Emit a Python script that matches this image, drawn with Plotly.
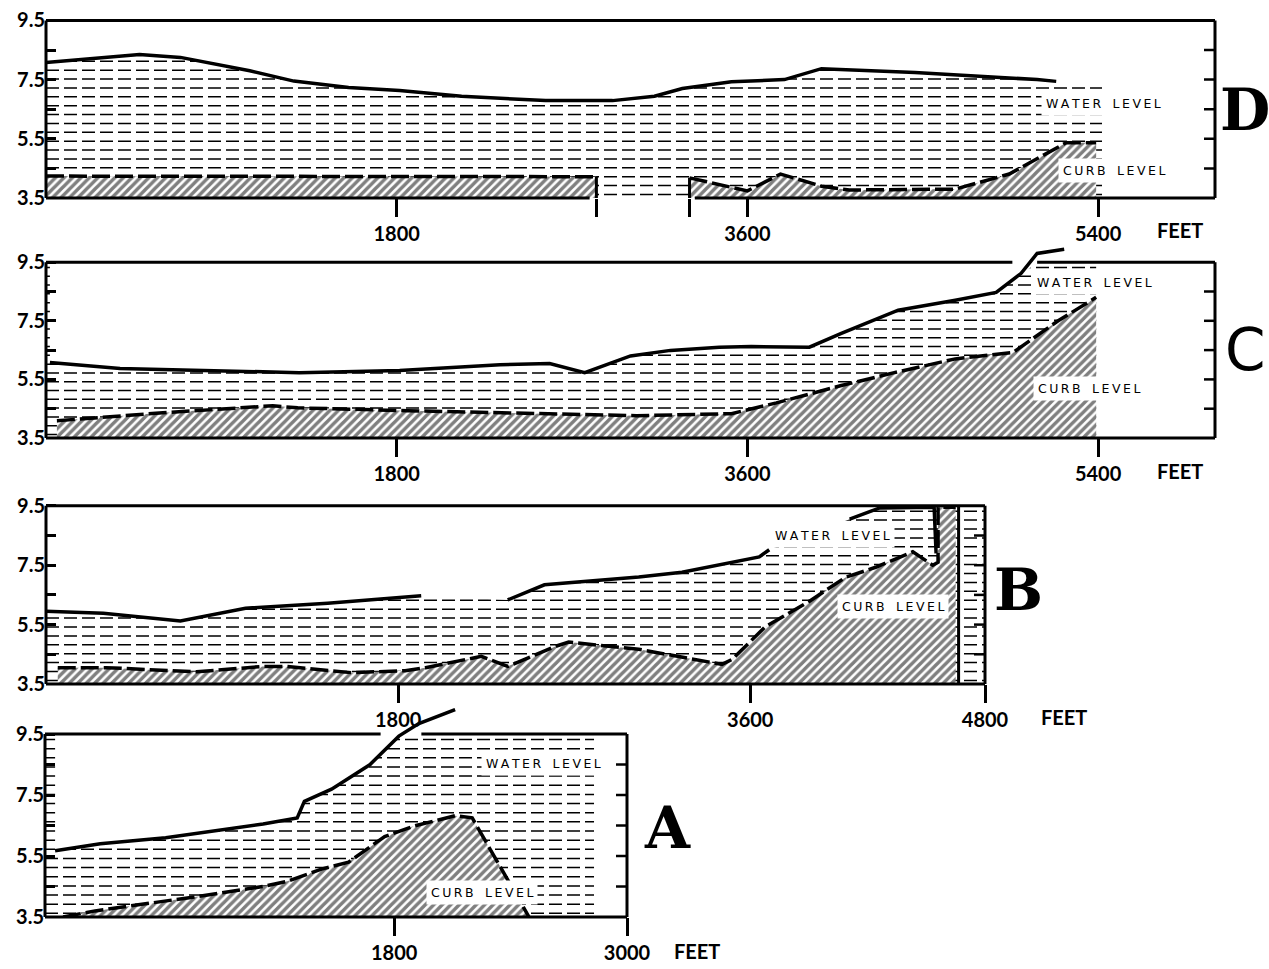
import plotly.graph_objects as go
import numpy as np

W, H = 1269, 969

# ---------------- data (feet, level) ----------------
# Panel D
d_water_x = [0, 480, 690, 1046, 1272, 1553, 1815, 2133, 2564, 2908, 3123, 3266, 3518, 3790, 3980, 4460, 5087, 5185, 5420]
d_water_y = [8.08, 8.35, 8.25, 7.8, 7.45, 7.23, 7.13, 6.94, 6.79, 6.79, 6.94, 7.2, 7.43, 7.5, 7.87, 7.74, 7.5, 7.44, 7.44]
d_water_gaps = [5185]
d_curb1_x = [0, 2825]
d_curb1_y = [4.24, 4.22]
d_curb2_x = [3303, 3600, 3770, 3980, 4123, 4667, 4944, 5236, 5390]
d_curb2_y = [4.18, 3.74, 4.31, 3.9, 3.77, 3.8, 4.31, 5.37, 5.37]

# Panel C
c_water_x = [20, 380, 1300, 1815, 2330, 2585, 2765, 3000, 3205, 3456, 3620, 3918, 4082, 4374, 4667, 4877, 5005, 5087, 5226]
c_water_y = [6.08, 5.87, 5.73, 5.8, 6.0, 6.04, 5.73, 6.3, 6.49, 6.6, 6.62, 6.6, 7.07, 7.86, 8.2, 8.47, 9.12, 9.8, 9.94]
c_curb_x = [56, 600, 1164, 1292, 1856, 2487, 3030, 3518, 3749, 4082, 4354, 4667, 4964, 5195, 5390]
c_curb_y = [4.09, 4.36, 4.6, 4.53, 4.43, 4.33, 4.26, 4.33, 4.7, 5.29, 5.73, 6.2, 6.42, 7.5, 8.3]

# Panel B
b_water_x = [0, 293, 687, 1020, 1440, 1918, 2360, 2548, 3030, 3251, 3646, 3697, 4108, 4262, 4540, 4550]
b_water_y = [5.95, 5.88, 5.62, 6.05, 6.22, 6.47, 6.33, 6.84, 7.1, 7.26, 7.78, 8.02, 9.05, 9.43, 9.45, 7.9]
b_water_gaps = [1918, 3697]
b_curb_x = [60, 308, 770, 1103, 1230, 1564, 1836, 1940, 2225, 2360, 2610, 2672, 3030, 3456, 3508,
            3677, 3903, 4087, 4241, 4431, 4533, 4560, 4560, 4650]
b_curb_y = [4.05, 4.05, 3.91, 4.09, 4.09, 3.88, 3.95, 4.05, 4.43, 4.09, 4.78, 4.91, 4.67, 4.16, 4.33,
            5.43, 6.29, 7.09, 7.43, 7.95, 7.5, 7.6, 9.45, 9.45]

# Panel A
a_water_x = [52, 285, 622, 1124, 1300, 1337, 1477, 1674, 1824, 1927, 2114]
a_water_y = [5.67, 5.9, 6.1, 6.55, 6.75, 7.29, 7.69, 8.49, 9.43, 9.84, 10.3]
a_curb_x = [93, 258, 772, 1124, 1249, 1425, 1565, 1751, 1901, 2114, 2202, 2378, 2495]
a_curb_y = [3.5, 3.7, 4.16, 4.5, 4.67, 5.07, 5.3, 6.14, 6.48, 6.82, 6.75, 4.8, 3.5]

y_tickvals = [3.5, 4.5, 5.5, 6.5, 7.5, 8.5, 9.5]
y_ticktext = ["3.5", "", "5.5", "", "7.5", "", "9.5"]

panels = [
    dict(letter="D", lfont="DejaVu Serif", xmax=6000, ytop=9.6, px=(46, 1215, 198, 29.6),
         water=(d_water_x, d_water_y, d_water_gaps),
         curbs=[(d_curb1_x, d_curb1_y), (d_curb2_x, d_curb2_y)],
         dash_end=5420,
         xticks=[1800, 2825, 3303, 3600, 5400], xtext=["1800", "", "", "3600", "5400"],
         top=[(0, 6000)], bottom=[(0, 2790), (3330, 6000)],
         verticals=[(2825, 4.22), (3303, 4.18)],
         water_lbl=(5430, 6.69), curb_lbl=(5482, 4.42),
         letter_pos=(1245, 110), feet_pos=(1180, 230)),
    dict(letter="C", lfont="DejaVu Sans", xmax=6000, ytop=10.1, px=(46, 1215, 438, 29.3),
         water=(c_water_x, c_water_y, []),
         curbs=[(c_curb_x, c_curb_y)],
         dash_end=5390,
         xticks=[1800, 3600, 5400], xtext=["1800", "3600", "5400"],
         top=[(0, 4960), (5087, 6000)], bottom=[(0, 6000)],
         verticals=[],
         water_lbl=(5380, 8.82), curb_lbl=(5354, 5.19),
         letter_pos=(1245, 350), feet_pos=(1180, 471)),
    dict(letter="B", lfont="DejaVu Serif", xmax=4800, ytop=9.6, px=(46, 985, 684, 29.7),
         water=(b_water_x, b_water_y, b_water_gaps),
         curbs=[(b_curb_x, b_curb_y)],
         dash_end=4800,
         xticks=[1800, 3600, 4800], xtext=["1800", "3600", "4800"],
         top=[(0, 4800)], bottom=[(0, 4800)],
         verticals=[(4665, 9.5)],
         water_lbl=(4020, 8.5), curb_lbl=(4328, 6.12),
         letter_pos=(1018, 590), feet_pos=(1064, 717)),
    dict(letter="A", lfont="DejaVu Serif", xmax=3000, ytop=10.35, px=(45, 627, 917, 30.5),
         water=(a_water_x, a_water_y, []),
         curbs=[(a_curb_x, a_curb_y)],
         dash_end=2830,
         xticks=[1800, 3000], xtext=["1800", "3000"],
         top=[(0, 1730), (1940, 3000)], bottom=[(0, 3000)],
         verticals=[],
         water_lbl=(2570, 8.53), curb_lbl=(2254, 4.3),
         letter_pos=(667, 828), feet_pos=(697, 951)),
]

dash_levels = np.arange(3.62, 9.4, 0.3)

fig = go.Figure()
shapes = []
annotations = []
layout = {}

TICKFONT = dict(family="Lato, DejaVu Sans, sans-serif", size=20, color="black", weight="bold")
LBLFONT = dict(family="DejaVu Sans, sans-serif", size=12.5, color="black")
THIN = "\u2009"


def spaced(s):
    return THIN.join(list(s)).replace(THIN + " " + THIN, THIN + THIN + " " + THIN)


def split_gaps(xs, ys, gaps):
    ox, oy = [], []
    for i, (x, y) in enumerate(zip(xs, ys)):
        ox.append(x)
        oy.append(y)
        if x in gaps and i < len(xs) - 1:
            ox.append(None)
            oy.append(None)
    return ox, oy


for i, p in enumerate(panels):
    n = i + 1
    xa = "x" if n == 1 else f"x{n}"
    ya = "y" if n == 1 else f"y{n}"
    xkey = "xaxis" if n == 1 else f"xaxis{n}"
    ykey = "yaxis" if n == 1 else f"yaxis{n}"
    left, right, bottom, ppu = p["px"]
    top_px = bottom - (p["ytop"] - 3.5) * ppu

    layout[xkey] = dict(domain=[left / W, right / W], range=[0, p["xmax"]], anchor=ya,
                        showgrid=False, zeroline=False, showline=False, automargin=False,
                        tickvals=p["xticks"], ticktext=p["xtext"], ticks="outside",
                        ticklen=18, tickwidth=2.5, tickcolor="black", tickfont=TICKFONT,
                        fixedrange=True)
    layout[ykey] = dict(domain=[1 - bottom / H, 1 - top_px / H], range=[3.5, p["ytop"]], anchor=xa,
                        showgrid=False, zeroline=False, showline=False, automargin=False,
                        tickvals=y_tickvals, ticktext=y_ticktext, ticks="inside",
                        ticklen=10, tickwidth=2.5, tickcolor="black", tickfont=TICKFONT,
                        fixedrange=True)

    wx, wy, gaps = p["water"]

    # dashed horizontal "water" rows
    dx, dy = [], []
    for lv in dash_levels:
        dx += [0, p["dash_end"], None]
        dy += [lv, lv, None]
    fig.add_trace(go.Scatter(x=dx, y=dy, xaxis=xa, yaxis=ya, mode="lines",
                             line=dict(color="black", width=1.5, dash="13px,5px"),
                             hoverinfo="skip", showlegend=False))

    # white mask above the water line
    mwy = [min(v, 9.45) for v in wy]
    fig.add_trace(go.Scatter(x=list(wx) + [wx[-1], wx[0]], y=mwy + [9.5, 9.5],
                             xaxis=xa, yaxis=ya, mode="lines", fill="toself",
                             fillcolor="white", line=dict(width=0, color="white"),
                             hoverinfo="skip", showlegend=False))

    # hatched curb
    for cx, cy in p["curbs"]:
        fig.add_trace(go.Scatter(x=cx, y=cy, xaxis=xa, yaxis=ya, mode="lines", fill="tozeroy",
                                 fillcolor="white",
                                 fillpattern=dict(shape="/", fgcolor="black", bgcolor="white",
                                                  size=6, solidity=0.58),
                                 line=dict(width=0, color="black"),
                                 hoverinfo="skip", showlegend=False))
        fig.add_trace(go.Scatter(x=cx, y=cy, xaxis=xa, yaxis=ya, mode="lines",
                                 line=dict(color="black", width=3.5, dash="18px,5px"),
                                 hoverinfo="skip", showlegend=False))

    # water level line
    lx, ly = split_gaps(wx, wy, gaps)
    fig.add_trace(go.Scatter(x=lx, y=ly, xaxis=xa, yaxis=ya, mode="lines",
                             line=dict(color="black", width=3.5),
                             connectgaps=False, hoverinfo="skip", showlegend=False))

    # frame
    L = dict(color="black", width=3)
    shapes.append(dict(type="line", xref=f"{xa} domain", yref=ya, x0=0, x1=0, y0=3.5, y1=9.5, line=L))
    shapes.append(dict(type="line", xref=f"{xa} domain", yref=ya, x0=1, x1=1, y0=3.5, y1=9.5, line=L))
    for a, b in p["top"]:
        shapes.append(dict(type="line", xref=xa, yref=ya, x0=a, x1=b, y0=9.5, y1=9.5, line=L))
    for a, b in p["bottom"]:
        shapes.append(dict(type="line", xref=xa, yref=f"{ya} domain", x0=a, x1=b, y0=0, y1=0, line=L))
    for vx, vy in p["verticals"]:
        shapes.append(dict(type="line", xref=xa, yref=ya, x0=vx, x1=vx, y0=3.5, y1=vy,
                           line=dict(color="black", width=3)))
    # right side inner ticks
    for t in [4.5, 5.5, 6.5, 7.5, 8.5]:
        shapes.append(dict(type="line", xref=f"{xa} domain", yref=ya, xsizemode="pixel", xanchor=1,
                           x0=-11, x1=0, y0=t, y1=t, line=dict(color="black", width=2.5)))

    # labels
    annotations.append(dict(x=p["water_lbl"][0], y=p["water_lbl"][1], xref=xa, yref=ya,
                            xanchor="center", yanchor="middle",
                            text=spaced("WATER LEVEL"), showarrow=False, font=LBLFONT,
                            bgcolor="white", borderpad=4))
    annotations.append(dict(x=p["curb_lbl"][0], y=p["curb_lbl"][1], xref=xa, yref=ya,
                            xanchor="center", yanchor="middle",
                            text=spaced("CURB LEVEL"), showarrow=False, font=LBLFONT,
                            bgcolor="white", borderpad=4))
    lw = "bold" if p["letter"] != "C" else "normal"
    annotations.append(dict(x=p["letter_pos"][0] / W, y=1 - p["letter_pos"][1] / H,
                            xref="paper", yref="paper", xanchor="center", yanchor="middle",
                            text=p["letter"], showarrow=False,
                            font=dict(family=p["lfont"], size=58, color="black", weight=lw)))
    annotations.append(dict(x=p["feet_pos"][0] / W, y=1 - p["feet_pos"][1] / H,
                            xref="paper", yref="paper", xanchor="center", yanchor="middle",
                            text="FEET", showarrow=False, font=TICKFONT))

fig.update_layout(width=W, height=H, autosize=False, margin=dict(l=0, r=0, t=0, b=0, pad=0),
                  paper_bgcolor="white", plot_bgcolor="rgba(0,0,0,0)",
                  showlegend=False, shapes=shapes, annotations=annotations, **layout)

fig.write_html("out.html", config={"displayModeBar": False},
               post_script="document.body.style.margin='0';")
